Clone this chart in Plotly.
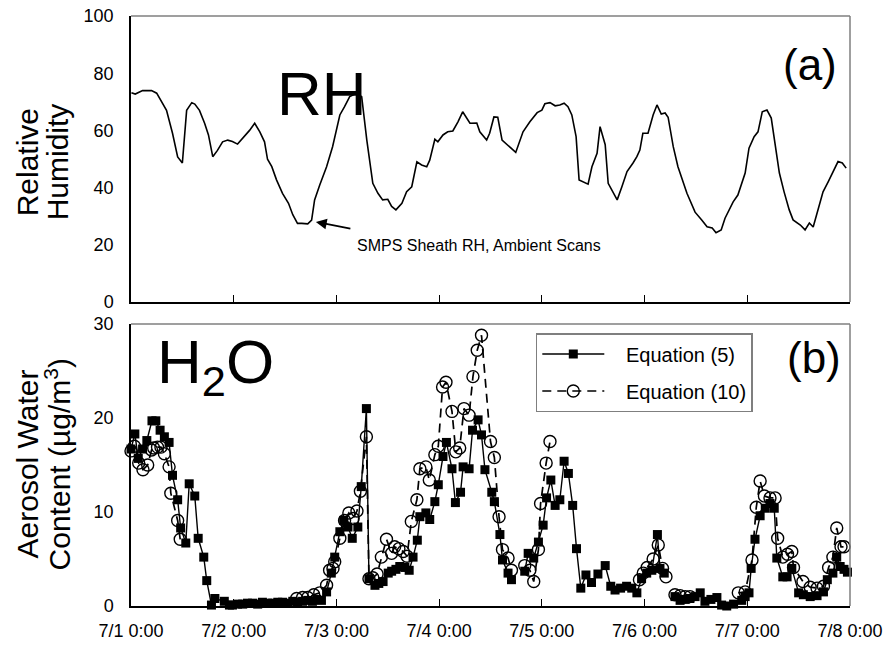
import plotly.graph_objects as go
from plotly.subplots import make_subplots

# ---- Relative humidity (SMPS sheath RH, ambient scans); time in hours from 7/1 0:00 ----
rh_hours = [0.1, 1.0, 2.7, 4.8, 6.0, 7.4, 8.3, 9.7, 10.9, 12.0, 13.0, 14.2, 14.9, 16.0, 17.2,
            18.1, 19.1, 20.2, 21.4, 22.6, 23.7, 24.9, 26.1, 27.7, 28.9, 30.1, 31.2, 31.9, 32.9,
            34.0, 35.4, 36.8, 37.8, 38.9, 39.9, 41.3, 42.2, 42.9, 44.1, 45.7, 47.1, 48.8, 49.9,
            51.1, 52.7, 53.9, 55.1, 56.5, 57.7, 58.8, 60.0, 60.9, 61.9, 63.3, 64.4, 65.6, 66.8,
            67.9, 69.1, 69.8, 71.0, 71.7, 72.9, 74.0, 75.2, 76.4, 77.5, 79.2, 80.8, 81.5, 83.1,
            83.8, 84.8, 85.7, 86.7, 88.5, 89.9, 91.6, 93.2, 94.9, 96.0, 96.7, 97.9, 99.1, 100.2,
            101.2, 102.1, 103.0, 104.0, 104.7, 105.6, 106.8, 107.7, 108.9, 109.6, 110.8, 111.5,
            112.6, 113.6, 114.7, 115.9, 117.3, 118.2, 118.9, 119.6, 120.8, 122.0, 122.9, 123.9,
            124.8, 125.5, 126.7, 127.8, 129.9, 131.8, 133.4, 134.6, 135.8, 136.7, 137.9, 138.8,
            140.7, 141.8, 143.5, 144.4, 145.6, 146.5, 147.5, 148.6, 149.6, 150.5, 151.5, 152.6,
            153.8, 154.7, 156.4, 157.5, 158.5, 159.4, 160.6, 161.7, 162.9, 164.1, 165.2, 166.2,
            167.1]
rh_values = [73.2, 72.7, 73.9, 73.9, 73.0, 69.5, 67.0, 59.0, 50.7, 48.6, 67.0, 69.7, 69.2, 67.0,
             62.5, 58.4, 50.8, 53.0, 56.0, 56.6, 56.1, 55.2, 57.2, 60.0, 62.5, 59.5, 56.0, 49.9,
             47.3, 42.7, 38.0, 34.5, 30.5, 27.5, 27.5, 27.3, 28.6, 35.7, 40.9, 47.3, 54.3, 65.4,
             68.3, 71.8, 73.0, 71.8, 56.6, 41.5, 38.0, 35.7, 35.9, 33.4, 32.2, 34.5, 38.6, 40.3,
             49.0, 47.9, 47.3, 49.6, 56.9, 56.0, 58.4, 59.5, 59.8, 63.0, 66.5, 62.5, 62.6, 59.5,
             56.6, 59.0, 64.7, 64.6, 56.6, 54.3, 52.3, 59.5, 63.0, 66.2, 67.1, 69.3, 69.7, 68.6,
             68.9, 69.5, 68.3, 65.4, 57.8, 42.7, 42.1, 41.2, 47.3, 52.0, 61.3, 55.0, 41.5, 38.6,
             35.7, 40.3, 45.6, 48.6, 50.8, 53.1, 59.0, 59.0, 65.4, 68.9, 65.7, 66.1, 64.6, 54.3,
             47.3, 38.0, 31.4, 28.6, 26.3, 25.9, 24.2, 25.2, 29.3, 35.0, 37.4, 45.1, 53.8, 57.8,
             59.5, 66.5, 67.1, 64.3, 55.6, 45.1, 38.5, 32.2, 28.7, 26.9, 25.2, 27.6, 26.2, 32.2,
             38.5, 42.0, 45.5, 49.1, 48.6, 46.8]

# ---- Aerosol water content, Equation (5); None marks a break in the record ----
eq5_hours = [0.0, 0.9, 1.7, 2.7, 3.7, 4.9, 5.8, 6.8, 7.8, 8.9, 9.7, 10.9, 11.6, 12.8, 13.6,
             14.9, 15.7, 17.0, 17.7, 18.8, 19.6, 21.8, 23.0, 23.7, 24.9, 26.1, 27.2, 28.4, 29.6,
             30.7, 31.9, 33.1, 34.3, 35.4, 36.6, 37.8, 38.9, 40.1, 41.3, 42.4, 43.4, 44.5, 45.7,
             46.8, 47.6, 48.8, 49.7, 50.7, 51.7, 53.0, 53.8, 55.0, 55.6, 57.0, 57.9, 58.9, 60.1,
             60.9, 61.9, 62.8, 64.0, 65.0, 65.9, 66.9, 67.5, 68.9, 69.8, 71.0, 71.8, 72.9, 73.7,
             75.0, 75.8, 77.0, 77.6, 79.0, 79.8, 81.1, 81.9, 82.7, 84.3, 84.9, 86.2, 86.8, 88.1,
             88.9, 90.5, 92.0, 92.8, 94.1, 95.2, 96.3, 97.1, 98.1, 99.1, 100.2, 101.2, 102.2,
             103.2, 104.1, 105.1, 106.3, 107.6, 109.1, 110.8, 112.1, 113.1, 114.4, 115.8, 117.0,
             118.2, 119.3, 120.5, 121.7, 123.0, 123.6, 124.6, 125.8, 127.1, 128.3, 129.5, 130.6,
             131.8, 133.0, 134.1, 135.5, 136.9, 138.0, 139.2, 140.8, 142.7, 143.5, 144.4, 144.9,
             145.8, 147.0, 148.2, 149.3, 150.3, 150.9, 152.3, 153.3, 154.4, 156.0, 157.1, 158.7,
             160.3, 161.8, 162.7, 164.0, 164.9, 165.7, 166.6, 167.4]
eq5_values = [16.7, 18.3, 15.7, 16.7, 17.6, 19.7, 19.7, 18.7, 18.0, 17.4, 13.9, 11.3, 8.3, 6.7,
              13.0, 11.7, 7.2, 5.2, 2.7, 0.1, 0.8, 0.5, 0.1, 0.1, 0.2, 0.2, 0.3, 0.3, 0.2, 0.4,
              0.3, 0.3, 0.4, 0.4, 0.3, 0.5, 0.3, 0.5, 0.6, 0.5, 0.7, 0.6, 1.5, 3.5, 5.2, 7.9, 9.1,
              8.4, 7.2, 8.4, 12.7, 21.0, 2.9, 2.2, 2.4, 2.6, 3.5, 3.7, 3.9, 4.2, 4.1, 3.8, 5.2,
              7.0, 9.5, 9.9, 9.2, 11.1, 12.9, 15.9, 17.4, 14.6, 11.0, 12.1, 14.8, 14.6, 18.7,
              19.8, 18.2, 14.5, 12.1, 11.1, 7.6, 4.9, 3.5, 2.8, None, 3.7, 5.6, 5.1, 6.8, 8.6,
              11.5, 13.4, 10.7, 11.3, 15.4, 14.1, 10.7, 6.1, 1.9, 3.3, 2.5, 3.4, 4.3, 2.1, 1.7,
              1.9, 2.1, 1.9, 1.4, 2.9, 3.5, 3.8, 7.6, 4.0, 3.5, None, 1.0, 0.6, 0.7, 0.8, 1.0,
              1.4, 0.5, 0.7, 0.9, 0.1, 0.0, 0.2, 0.6, 1.0, 1.4, 4.0, 7.1, 9.6, 10.4, 10.9, 10.4,
              5.1, 3.1, 3.1, 4.0, 1.4, 1.2, 1.0, 1.1, 1.5, 2.8, 3.5, 5.2, 4.2, 3.9, 3.6]

# ---- Aerosol water content, Equation (10) ----
eq10_hours = [0.0, 0.8, 1.8, 2.8, 3.9, 4.8, 5.3, 6.2, 7.0, 7.8, 8.9, 9.3, 10.9, 11.5, 25.0,
              38.7, 40.1, 41.3, 42.7, 44.1, 45.7, 46.4, 47.2, 47.6, 48.8, 49.9, 50.9, 51.9, 52.8,
              53.6, 55.0, 55.6, 56.5, 57.5, 58.5, 59.7, 60.9, 61.6, 62.6, 63.6, 64.5, 65.5, 66.8,
              67.5, 68.9, 69.7, 71.0, 71.8, 72.8, 73.6, 75.0, 75.9, 76.8, 77.8, 79.0, 79.9, 80.9,
              81.9, 84.0, 84.9, 86.0, 86.8, 88.1, 88.9, 90.5, 92.0, 93.2, 94.1, 95.2, 95.7, 97.0,
              97.9, 108.0, 118.8, 119.7, 120.6, 122.0, 123.2, 124.2, 125.0, 126.0, 127.1, 128.3,
              129.5, 130.6, 136.0, 141.9, 143.5, 145.1, 146.1, 147.0, 148.0, 149.3, 150.5, 151.1,
              152.3, 153.4, 154.4, 154.8, 157.0, 158.7, 160.3, 161.8, 163.0, 164.0, 164.9, 165.9,
              166.6]
eq10_values = [16.5, 17.0, 15.2, 14.5, 15.0, 16.6, 16.8, 16.9, 16.9, 16.2, 14.8, 12.0, 9.1, 7.1,
               None, 0.8, 0.9, 0.9, 1.2, 1.4, 2.2, 3.8, 4.0, 4.7, 7.2, 9.1, 9.9, 9.3, 10.1, 12.2,
               18.0, 2.9, 3.0, 3.4, 5.2, 7.1, 5.6, 6.3, 6.1, 5.8, 5.3, 9.0, 11.3, 14.6, 14.8,
               13.4, 16.1, 17.0, 23.3, 23.8, 20.7, 16.4, 16.8, 21.0, 20.3, 24.4, 27.2, 28.8, 17.5,
               15.8, 9.5, 6.0, 5.1, 3.8, None, 4.3, 3.8, 2.6, 6.0, 10.9, 15.2, 17.5, None, 2.8,
               3.5, 4.1, 5.0, 6.5, 4.0, 3.1, None, 1.2, 1.1, 1.0, 1.0, None, 1.4, 1.5, 4.9, 10.5,
               13.3, 11.7, 11.5, 11.5, 7.2, 5.2, 5.5, 5.8, 4.1, 2.6, 2.0, 1.9, 2.1, 4.1, 5.2, 8.3,
               6.3, 6.3]

# ---- Axis ticks ----
day_ticks = [0, 24, 48, 72, 96, 120, 144, 168]
day_labels = ["7/1 0:00", "7/2 0:00", "7/3 0:00", "7/4 0:00",
              "7/5 0:00", "7/6 0:00", "7/7 0:00", "7/8 0:00"]
rh_ticks = [0, 20, 40, 60, 80, 100]
water_ticks = [0, 10, 20, 30]

FONT = "Arial, Liberation Sans, sans-serif"
FRAME_GREY = "#7f7f7f"
NBSP = "\u00a0"

fig = make_subplots(rows=2, cols=1, shared_xaxes=False, vertical_spacing=0.0)

fig.add_trace(go.Scatter(x=rh_hours, y=rh_values, mode="lines",
                         line=dict(color="black", width=1.6),
                         showlegend=False), row=1, col=1)

fig.add_trace(go.Scatter(x=eq5_hours, y=eq5_values, mode="lines+markers",
                         name=NBSP * 3 + "Equation (5)", legendgroup="a",
                         line=dict(color="black", width=1.4),
                         marker=dict(symbol="square", size=9, color="black",
                                     line=dict(color="black", width=0)),
                         cliponaxis=False, connectgaps=False), row=2, col=1)

fig.add_trace(go.Scatter(x=eq10_hours, y=eq10_values, mode="lines+markers",
                         name=NBSP * 3 + "Equation (10)", legendgroup="b",
                         line=dict(color="black", width=1.7, dash="9px,6px"),
                         marker=dict(symbol="circle-open", size=12, color="black",
                                     line=dict(color="black", width=1.4)),
                         cliponaxis=False, connectgaps=False), row=2, col=1)

axis_common = dict(range=[0, 168], tickvals=day_ticks, ticks="inside", ticklen=7,
                   tickcolor="black", showline=True, linecolor="black", linewidth=1.5,
                   showgrid=False, zeroline=False, automargin=False)

fig.update_xaxes(**axis_common, showticklabels=False, domain=[0, 1], row=1, col=1)
fig.update_xaxes(**axis_common, ticktext=day_labels, showticklabels=True,
                 tickfont=dict(family=FONT, size=18, color="black"),
                 ticklabelstandoff=8, domain=[0, 1], row=2, col=1)

yaxis_common = dict(showline=True, linecolor="black", linewidth=1.5, showgrid=False,
                    zeroline=False, ticks="", ticklabelstandoff=12, automargin=False,
                    tickfont=dict(family=FONT, size=18, color="black"))
fig.update_yaxes(**yaxis_common, range=[0, 100], tickvals=rh_ticks,
                 domain=[0.5153, 1.0], row=1, col=1)
fig.update_yaxes(**yaxis_common, range=[0, 30], tickvals=water_ticks,
                 domain=[0.0, 0.478], row=2, col=1)

# grey top/right frame edges of each panel
for xr, yr in (("x domain", "y domain"), ("x2 domain", "y2 domain")):
    fig.add_shape(type="line", xref=xr, yref=yr, x0=0, x1=1, y0=1, y1=1,
                  line=dict(color=FRAME_GREY, width=1.5))
    fig.add_shape(type="line", xref=xr, yref=yr, x0=1, x1=1, y0=0, y1=1,
                  line=dict(color=FRAME_GREY, width=1.5))

title_font = dict(family=FONT, size=30, color="black")
annotations = [
    dict(text="RH", xref="x domain", yref="y domain", x=0.266, y=0.73,
         xanchor="center", yanchor="middle", showarrow=False,
         font=dict(family=FONT, size=62, color="black")),
    dict(text="(a)", xref="x domain", yref="y domain", x=0.985, y=0.83,
         xanchor="right", yanchor="middle", showarrow=False,
         font=dict(family=FONT, size=44, color="black")),
    dict(text="H<sub>2</sub>O", xref="x2 domain", yref="y2 domain", x=0.033, y=0.85,
         xanchor="left", yanchor="middle", showarrow=False,
         font=dict(family=FONT, size=62, color="black")),
    dict(text="(b)", xref="x2 domain", yref="y2 domain", x=0.99, y=0.88,
         xanchor="right", yanchor="middle", showarrow=False,
         font=dict(family=FONT, size=44, color="black")),
    dict(text="", x=43.2, y=28.0, xref="x", yref="y", showarrow=True,
         arrowhead=2, arrowsize=1.2, arrowwidth=1.8, arrowcolor="black", ax=36, ay=7),
    dict(text="SMPS Sheath RH, Ambient Scans", x=52.3, y=19.6, xref="x", yref="y",
         xanchor="left", yanchor="middle", showarrow=False,
         font=dict(family=FONT, size=16, color="black")),
    # axis titles, one annotation per line for tight line spacing
    dict(text="Relative", xref="paper", yref="paper", x=-0.1446, y=0.752,
         xanchor="center", yanchor="middle", textangle=-90, showarrow=False,
         font=title_font),
    dict(text="Humidity", xref="paper", yref="paper", x=-0.1029, y=0.752,
         xanchor="center", yanchor="middle", textangle=-90, showarrow=False,
         font=title_font),
    dict(text="Aerosol Water", xref="paper", yref="paper", x=-0.1446, y=0.24,
         xanchor="center", yanchor="middle", textangle=-90, showarrow=False,
         font=title_font),
    dict(text="Content (µg/m<sup>3</sup>)", xref="paper", yref="paper", x=-0.1015, y=0.24,
         xanchor="center", yanchor="middle", textangle=-90, showarrow=False,
         font=title_font),
]
fig.update_layout(annotations=annotations)

fig.update_layout(
    width=886, height=648,
    margin=dict(l=131, r=36, t=16, b=42),
    paper_bgcolor="white", plot_bgcolor="white",
    font=dict(family=FONT, color="black"),
    legend=dict(x=0.563, y=0.4627, xanchor="left", yanchor="top",
                bgcolor="white", bordercolor=FRAME_GREY, borderwidth=1.5,
                font=dict(family=FONT, size=20, color="black"),
                itemwidth=62, tracegroupgap=8),
)

fig.write_html("out.html")
